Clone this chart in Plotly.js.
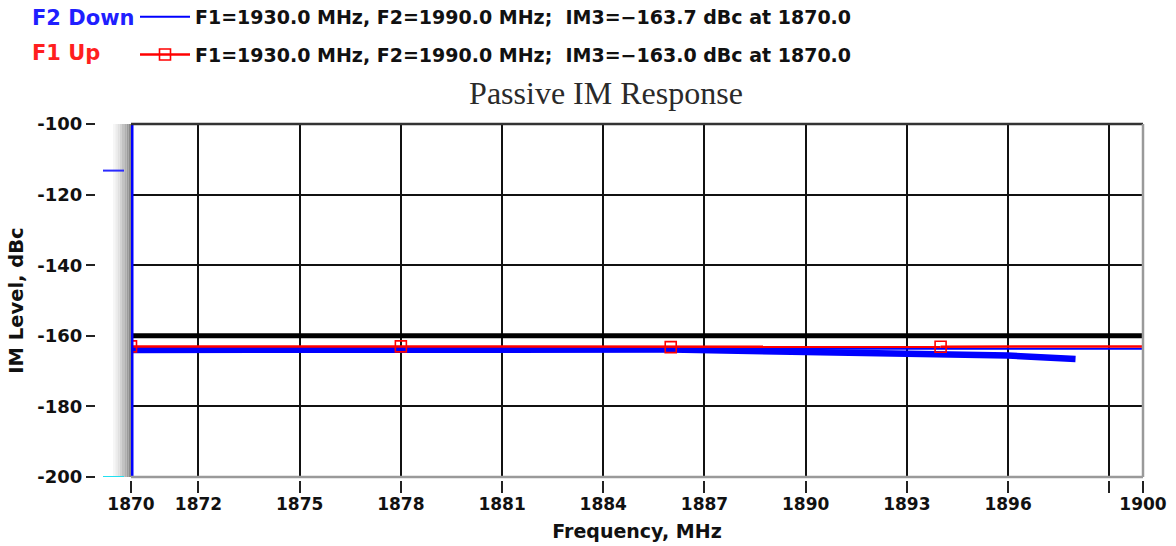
<!DOCTYPE html>
<html>
<head>
<meta charset="utf-8">
<script src="https://cdn.plot.ly/plotly-3.0.1.min.js"></script>
<style>html,body{margin:0;padding:0;background:#fff;}#chart{width:1176px;height:546px;}</style>
</head>
<body>
<div id="chart"></div>
<script>
// ---- data ----
const freqTicks = [1870, 1872, 1875, 1878, 1881, 1884, 1887, 1890, 1893, 1896, 1899, 1900];
const freqTickLabels = ['1870', '1872', '1875', '1878', '1881', '1884', '1887', '1890', '1893', '1896', '', '1900'];
const levelTicks = [-200, -180, -160, -140, -120, -100];
const levelTickLabels = ['-200', '-180', '-160', '-140', '-120', '-100'];

const limitFreq = [1870, 1900];
const limitLevel = [-160, -160];

const f2DownFreq = [1870, 1900];
const f2DownLevel = [-163.7, -163.7];

const f2SweepFreq = [1870, 1878, 1882, 1886, 1890, 1894, 1896, 1898];
const f2SweepLevel = [-164.0, -163.9, -163.7, -163.9, -164.6, -165.1, -165.6, -166.6];

const f2MarkerFreq = [1870, 1870];
const f2MarkerLevel = [-100, -200];

const f1UpFreq = [1870, 1878, 1886, 1894];
const f1UpLevel = [-163.0, -163.0, -163.2, -163.1];
const f1TailFreq = [1894, 1900];
const f1TailLevel = [-163.1, -163.0];

const sideMarkLevels = [-113.2, -200];
const sideMarkColors = ['#2a2aff', '#22e0f0'];

const legendF2 = 'F1=1930.0 MHz, F2=1990.0 MHz; &nbsp;IM3=\u2212163.7 dBc at 1870.0';
const legendF1 = 'F1=1930.0 MHz, F2=1990.0 MHz; &nbsp;IM3=\u2212163.0 dBc at 1870.0';

// ---- traces ----
const traces = [
  {x: limitFreq, y: limitLevel, mode: 'lines', line: {color: '#000', width: 5}, showlegend: false, hoverinfo: 'skip'},
  {x: f2SweepFreq, y: f2SweepLevel, mode: 'lines', line: {color: '#0000ff', width: 6.5}, showlegend: false},
  {x: f2DownFreq, y: f2DownLevel, mode: 'lines', line: {color: '#0000ff', width: 2}, name: legendF2, legendgroup: 'a'},
  {x: f1TailFreq, y: f1TailLevel, mode: 'lines', line: {color: '#ff0000', width: 2.5}, showlegend: false},
  {x: f1UpFreq, y: f1UpLevel, mode: 'lines+markers', line: {color: '#ff0000', width: 2.5},
   marker: {symbol: 'square-open', size: 11, color: '#ff0000', line: {width: 1.6}}, name: legendF1, legendgroup: 'b'},
  {x: f2MarkerFreq, y: f2MarkerLevel, mode: 'lines', line: {color: '#0000ff', width: 5}, showlegend: false}
];

// ---- decorative shapes ----
const shapes = [];
const shadeCols = ['#f6f6f6', '#ececec', '#e0e0e0', '#d2d2d2', '#c2c2c2', '#b0b0b0', '#9c9c9c', '#888888'];
const pxW = 1012;
shadeCols.forEach((c, i) => {
  const x0 = (-18 + i * 2.25) / pxW, x1 = (-18 + (i + 1) * 2.25) / pxW;
  shapes.push({type: 'rect', xref: 'x domain', yref: 'y domain', x0: x0, x1: x1, y0: 0, y1: 1,
    fillcolor: c, line: {width: 0}, layer: 'below'});
});
// borders
shapes.push({type: 'line', xref: 'x domain', yref: 'y domain', x0: 0, x1: 1, y0: 1, y1: 1, line: {color: '#333', width: 2.5}});
shapes.push({type: 'line', xref: 'x domain', yref: 'y domain', x0: 1, x1: 1, y0: 0, y1: 1, line: {color: '#9a9a9a', width: 2.5}});
shapes.push({type: 'line', xref: 'x domain', yref: 'y domain', x0: 0, x1: 1, y0: 0, y1: 0, line: {color: '#9a9a9a', width: 2.5}});
// side marks
sideMarkLevels.forEach((lv, i) => {
  shapes.push({type: 'line', xref: 'x domain', yref: 'y', x0: -28 / pxW, x1: -7 / pxW, y0: lv, y1: lv,
    line: {color: sideMarkColors[i], width: 2}});
});

const fontBold = {family: 'DejaVu Sans', size: 17, color: '#111', weight: 'bold'};

const layout = {
  width: 1176, height: 546,
  margin: {l: 60, r: 33, t: 124, b: 40, pad: 0, autoexpand: false},
  paper_bgcolor: '#fff', plot_bgcolor: 'rgba(0,0,0,0)',
  title: {text: 'Passive IM Response', font: {family: 'Liberation Serif', size: 32, color: '#2a2a2a'},
    x: 606 / 1176, xanchor: 'center', xref: 'container', y: 1 - 93 / 546, yanchor: 'middle', yref: 'container'},
  xaxis: {
    domain: [(131 - 60) / 1083, 1], range: [1870, 1900], anchor: 'free', position: (506 - 480) / 382,
    tickmode: 'array', tickvals: freqTicks, ticktext: freqTickLabels,
    ticks: 'outside', ticklen: 12, tickwidth: 2, tickcolor: '#222', ticklabelstandoff: -3,
    showgrid: true, gridcolor: '#111', gridwidth: 2, zeroline: false, showline: false,
    tickfont: fontBold,
    title: {text: 'Frequency, MHz', font: {family: 'DejaVu Sans', size: 19, color: '#111', weight: 'bold'}, standoff: 11}
  },
  yaxis: {
    domain: [(506 - 477) / 382, 1], range: [-200, -100], anchor: 'free', position: (95 - 60) / 1083,
    tickmode: 'array', tickvals: levelTicks, ticktext: levelTickLabels,
    ticks: 'outside', ticklen: 9, tickwidth: 2, tickcolor: '#222',
    showgrid: true, gridcolor: '#111', gridwidth: 2, zeroline: false, showline: false,
    tickfont: {family: 'DejaVu Sans', size: 18, color: '#111', weight: 'bold'},
    title: {text: 'IM Level, dBc', font: {family: 'DejaVu Sans', size: 19.5, color: '#111', weight: 'bold'}, standoff: 7}
  },
  legend: {x: (135 - 60) / 1083, xanchor: 'left', y: (506 + 2) / 382, yanchor: 'top',
    font: {family: 'DejaVu Sans', size: 19, color: '#111', weight: 'bold'},
    bgcolor: 'rgba(0,0,0,0)', tracegroupgap: 10, itemwidth: 50, traceorder: 'grouped'},
  showlegend: true,
  shapes: shapes,
  annotations: [
    {text: 'F2 Down', xref: 'paper', yref: 'paper', x: (30 - 60) / 1083, y: (506 - 18) / 382, xanchor: 'left', yanchor: 'middle',
     showarrow: false, font: {family: 'DejaVu Sans', size: 21, color: '#1f1fff', weight: 'bold'}},
    {text: 'F1 Up', xref: 'paper', yref: 'paper', x: (30 - 60) / 1083, y: (506 - 53) / 382, xanchor: 'left', yanchor: 'middle',
     showarrow: false, font: {family: 'DejaVu Sans', size: 21, color: '#ff1f1f', weight: 'bold'}}
  ]
};

Plotly.newPlot('chart', traces, layout, {displayModeBar: false, staticPlot: true});
</script>
</body>
</html>
